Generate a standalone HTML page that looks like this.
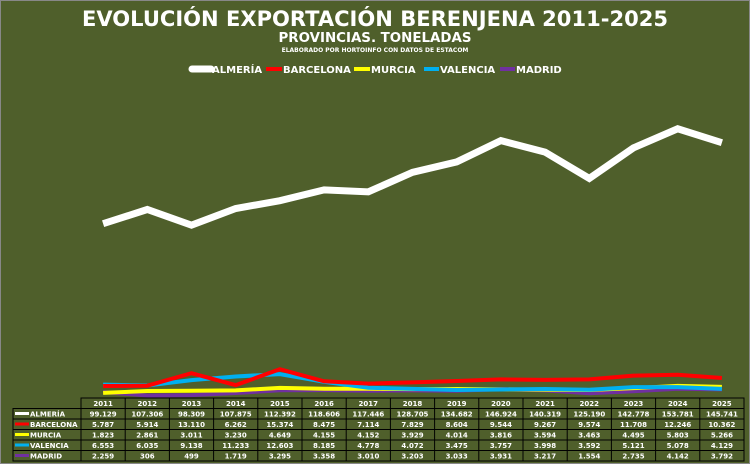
<!DOCTYPE html>
<html><head><meta charset="utf-8"><style>
body{margin:0;background:#fff}
svg{display:block;font-family:"DejaVu Sans","Liberation Sans",sans-serif;font-weight:bold}
</style></head><body>
<svg id="chart" width="750" height="464">
<rect x="0.5" y="0.5" width="749" height="463" fill="#4f5f2b" stroke="#888"/>
<text x="375" y="26" text-anchor="middle" fill="#fff" font-size="21" textLength="586" lengthAdjust="spacingAndGlyphs">EVOLUCIÓN EXPORTACIÓN BERENJENA 2011-2025</text>
<text x="375" y="42" text-anchor="middle" fill="#fff" font-size="13" textLength="193" lengthAdjust="spacingAndGlyphs">PROVINCIAS. TONELADAS</text>
<text x="375" y="52" text-anchor="middle" fill="#fff" font-size="6">ELABORADO POR HORTOINFO CON DATOS DE ESTACOM</text>
<g id="legend"></g>
<g id="lines"></g>
<g id="table"></g>
</svg>
<script>
const years=['2011','2012','2013','2014','2015','2016','2017','2018','2019','2020','2021','2022','2023','2024','2025'];
const seriesNames=['ALMERÍA','BARCELONA','MURCIA','VALENCIA','MADRID'];
const almeria=[99129,107306,98309,107875,112392,118606,117446,128705,134682,146924,140319,125190,142778,153781,145741];
const barcelona=[5787,5914,13110,6262,15374,8475,7114,7829,8604,9544,9267,9574,11708,12246,10362];
const murcia=[1823,2861,3011,3230,4649,4155,4152,3929,4014,3816,3594,3463,4495,5803,5266];
const valencia=[6553,6035,9138,11233,12603,8185,4778,4072,3475,3757,3998,3592,5121,5078,4129];
const madrid=[2259,306,499,1719,3295,3358,3010,3203,3033,3931,3217,1554,2735,4142,3792];
const NS='http://www.w3.org/2000/svg';
const data=[almeria,barcelona,murcia,valencia,madrid];
const colors=['#ffffff','#ff0000','#ffff00','#00b0f0','#7030a0'];
const widths=[7,4,4,4,4];
const colW=44.2, x0=81;
const xs=i=>x0+colW*i+colW/2;
const ys=v=>396-v*0.001738;
function mk(tag,attrs,parent){const e=document.createElementNS(NS,tag);for(const k in attrs)e.setAttribute(k,attrs[k]);parent.appendChild(e);return e;}
function fmt(v){return v.toString().replace(/\B(?=(\d{3})+(?!\d))/g,'.');}
const lines=document.getElementById('lines');
[4,2,3,1,0].forEach(s=>{
 const p=mk('polyline',{points:data[s].map((v,i)=>xs(i)+','+ys(v)).join(' '),fill:'none',stroke:colors[s],'stroke-width':widths[s],'stroke-linejoin':'miter'},lines);
 
 
});
const leg=document.getElementById('legend');
const legX=[[192,212],[266,283],[354,371],[424,440],[500,516]];
seriesNames.forEach((n,s)=>{
 const g=mk('g',{},leg);
 
 
 mk('line',{x1:legX[s][0],x2:legX[s][1]-1,y1:69,y2:69,stroke:colors[s],'stroke-width':widths[s],'stroke-linecap':s==0?'round':'butt'},g);
 mk('text',{x:legX[s][1],y:73,fill:'#fff','font-size':10},g).textContent=n;
});
const tb=document.getElementById('table');
const rowY=[398,408.5,419,429.5,440,450.5,461];
mk('rect',{x:x0,y:rowY[0],width:colW*15,height:rowY[1]-rowY[0],fill:'none',stroke:'#000','stroke-width':1},tb);
mk('rect',{x:13,y:rowY[1],width:x0-13+colW*15,height:rowY[6]-rowY[1],fill:'none',stroke:'#000','stroke-width':1},tb);
for(let r=1;r<6;r++)mk('line',{x1:13,x2:x0+colW*15,y1:rowY[r],y2:rowY[r],stroke:'#000'},tb);
for(let c=0;c<15;c++)mk('line',{x1:x0+colW*c,x2:x0+colW*c,y1:rowY[0],y2:rowY[6],stroke:'#000'},tb);
years.forEach((y,i)=>{const t=mk('text',{x:xs(i),y:rowY[0]+8,fill:'#fff','font-size':7,'text-anchor':'middle'},tb);t.textContent=y;
 });
seriesNames.forEach((n,s)=>{
 const yb=rowY[s+1]+8;
 mk('line',{x1:15,x2:29,y1:yb-3,y2:yb-3,stroke:colors[s],'stroke-width':3},tb);
 const lab=mk('text',{x:30,y:yb,fill:'#fff','font-size':7},tb);lab.textContent=n;
 
 
 data[s].forEach((v,i)=>{mk('text',{x:xs(i),y:yb,fill:'#fff','font-size':7,'text-anchor':'middle'},tb).textContent=fmt(v);});
});
</script>
</body></html>
